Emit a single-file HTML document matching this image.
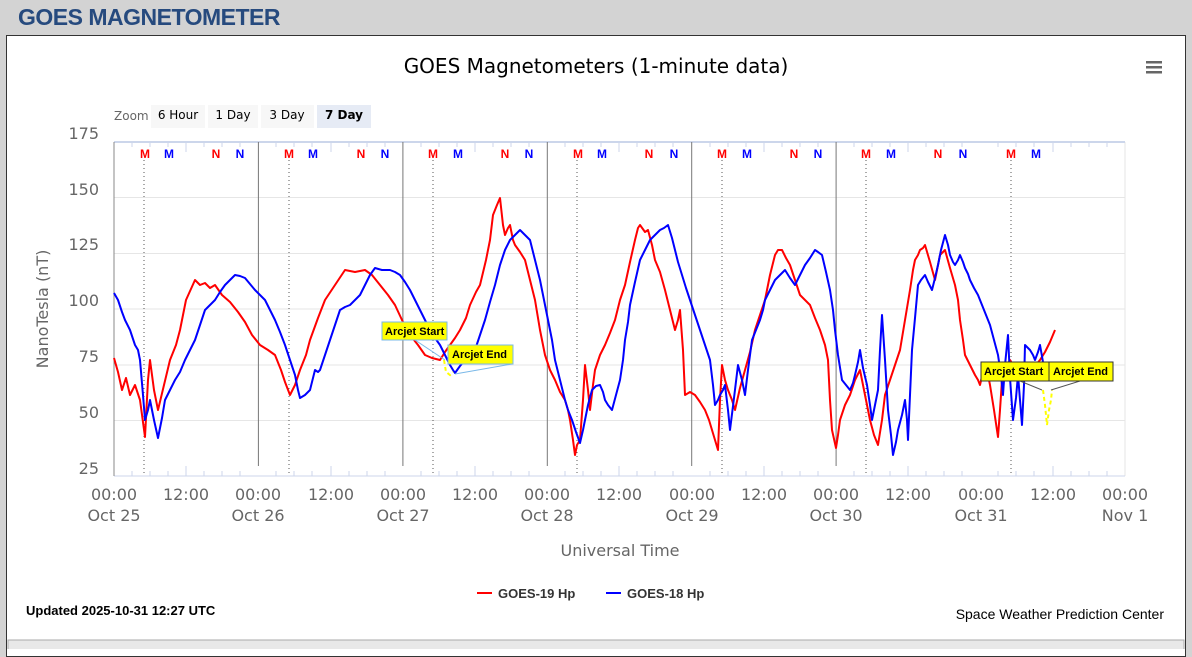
<!DOCTYPE html>
<html><head><meta charset="utf-8">
<style>
body{margin:0;width:1192px;height:649px;background:#d3d3d3;overflow:hidden;font-family:"Liberation Sans",sans-serif;}
.hdr{position:absolute;left:18px;top:4px;font-size:23px;font-weight:bold;color:#264a7e;letter-spacing:-0.5px;}
.panel{position:absolute;left:6px;top:35px;width:1178px;height:620px;background:#fff;border:1px solid #333;}
svg{position:absolute;left:0;top:0;}
</style></head><body>
<div class="hdr">GOES MAGNETOMETER</div>
<div class="panel"></div>
<svg width="1192" height="649" font-family="DejaVu Sans, sans-serif">
<text x="596" y="73" text-anchor="middle" font-size="20" fill="#000">GOES Magnetometers (1-minute data)</text>
<g fill="#666"><rect x="1146" y="61" width="16" height="2.5"/><rect x="1146" y="66" width="16" height="2.5"/><rect x="1146" y="71" width="16" height="2.5"/></g>
<text x="114" y="120" font-size="12" fill="#666">Zoom</text>
<rect x="151" y="105" width="54" height="23" fill="#f7f7f7"/><text x="178" y="119" text-anchor="middle" font-size="12">6 Hour</text>
<rect x="208" y="105" width="50" height="23" fill="#f7f7f7"/><text x="233" y="119" text-anchor="middle" font-size="12">1 Day</text>
<rect x="261" y="105" width="53" height="23" fill="#f7f7f7"/><text x="287" y="119" text-anchor="middle" font-size="12">3 Day</text>
<rect x="317" y="105" width="54" height="23" fill="#e6ebf5"/><text x="344" y="119" text-anchor="middle" font-size="12" font-weight="bold">7 Day</text>
<!-- grid -->
<g stroke="#e6e6e6" stroke-width="1">
<line x1="114" x2="1125" y1="197.5" y2="197.5"/><line x1="114" x2="1125" y1="253.5" y2="253.5"/><line x1="114" x2="1125" y1="309" y2="309"/><line x1="114" x2="1125" y1="365" y2="365"/><line x1="114" x2="1125" y1="420.5" y2="420.5"/>
</g>
<line x1="1125" x2="1125" y1="142" y2="476" stroke="#e6e6e6"/>
<line x1="114" x2="1125" y1="142" y2="142" stroke="#ccd6eb" stroke-width="2"/>
<line x1="114" x2="1125" y1="476" y2="476" stroke="#ccd6eb"/>
<line x1="114" x2="114" y1="142" y2="476" stroke="#888"/>
<g stroke="#777"><line x1="258.4" x2="258.4" y1="142" y2="466"/><line x1="402.9" x2="402.9" y1="142" y2="466"/><line x1="547.3" x2="547.3" y1="142" y2="466"/><line x1="691.7" x2="691.7" y1="142" y2="466"/><line x1="836.1" x2="836.1" y1="142" y2="466"/></g>
<g stroke="#555" stroke-dasharray="1,3"><line x1="144" x2="144" y1="160" y2="476"/><line x1="289" x2="289" y1="160" y2="476"/><line x1="433" x2="433" y1="160" y2="476"/><line x1="577" x2="577" y1="160" y2="476"/><line x1="722" x2="722" y1="160" y2="476"/><line x1="866" x2="866" y1="160" y2="476"/><line x1="1011" x2="1011" y1="160" y2="476"/></g>
<g stroke="#ccd6eb" id="tk">
<line x1="132" x2="132" y1="476" y2="471"/><line x1="150" x2="150" y1="476" y2="471"/><line x1="168" x2="168" y1="476" y2="471"/><line x1="186" x2="186" y1="476" y2="466"/><line x1="204" x2="204" y1="476" y2="471"/><line x1="222" x2="222" y1="476" y2="471"/><line x1="240" x2="240" y1="476" y2="471"/>
<line x1="276" x2="276" y1="476" y2="471"/><line x1="294" x2="294" y1="476" y2="471"/><line x1="312" x2="312" y1="476" y2="471"/><line x1="331" x2="331" y1="476" y2="466"/><line x1="349" x2="349" y1="476" y2="471"/><line x1="367" x2="367" y1="476" y2="471"/><line x1="385" x2="385" y1="476" y2="471"/>
<line x1="421" x2="421" y1="476" y2="471"/><line x1="439" x2="439" y1="476" y2="471"/><line x1="457" x2="457" y1="476" y2="471"/><line x1="475" x2="475" y1="476" y2="466"/><line x1="493" x2="493" y1="476" y2="471"/><line x1="511" x2="511" y1="476" y2="471"/><line x1="529" x2="529" y1="476" y2="471"/>
<line x1="565" x2="565" y1="476" y2="471"/><line x1="583" x2="583" y1="476" y2="471"/><line x1="601" x2="601" y1="476" y2="471"/><line x1="619" x2="619" y1="476" y2="466"/><line x1="637" x2="637" y1="476" y2="471"/><line x1="655" x2="655" y1="476" y2="471"/><line x1="673" x2="673" y1="476" y2="471"/>
<line x1="710" x2="710" y1="476" y2="471"/><line x1="728" x2="728" y1="476" y2="471"/><line x1="746" x2="746" y1="476" y2="471"/><line x1="764" x2="764" y1="476" y2="466"/><line x1="782" x2="782" y1="476" y2="471"/><line x1="800" x2="800" y1="476" y2="471"/><line x1="818" x2="818" y1="476" y2="471"/>
<line x1="854" x2="854" y1="476" y2="471"/><line x1="872" x2="872" y1="476" y2="471"/><line x1="890" x2="890" y1="476" y2="471"/><line x1="908" x2="908" y1="476" y2="466"/><line x1="926" x2="926" y1="476" y2="471"/><line x1="944" x2="944" y1="476" y2="471"/><line x1="962" x2="962" y1="476" y2="471"/>
<line x1="998" x2="998" y1="476" y2="471"/><line x1="1016" x2="1016" y1="476" y2="471"/><line x1="1034" x2="1034" y1="476" y2="471"/><line x1="1053" x2="1053" y1="476" y2="466"/><line x1="1071" x2="1071" y1="476" y2="471"/><line x1="1089" x2="1089" y1="476" y2="471"/><line x1="1107" x2="1107" y1="476" y2="471"/>
</g>
<use href="#tk" transform="translate(0,618) scale(1,-1)"/>
<!-- MN labels -->
<g font-size="12" font-weight="bold" font-family="Liberation Sans, sans-serif" text-anchor="middle">
<g fill="#f00"><text x="145" y="158">M</text><text x="289" y="158">M</text><text x="433" y="158">M</text><text x="578" y="158">M</text><text x="722" y="158">M</text><text x="866" y="158">M</text><text x="1011" y="158">M</text>
<text x="216" y="158">N</text><text x="361" y="158">N</text><text x="505" y="158">N</text><text x="649" y="158">N</text><text x="794" y="158">N</text><text x="938" y="158">N</text></g>
<g fill="#00f"><text x="169" y="158">M</text><text x="313" y="158">M</text><text x="458" y="158">M</text><text x="602" y="158">M</text><text x="747" y="158">M</text><text x="891" y="158">M</text><text x="1036" y="158">M</text>
<text x="240" y="158">N</text><text x="385" y="158">N</text><text x="529" y="158">N</text><text x="674" y="158">N</text><text x="818" y="158">N</text><text x="963" y="158">N</text></g>
</g>
<!-- y labels -->
<g font-size="16" fill="#666" text-anchor="end">
<text x="99" y="139">175</text><text x="99" y="195">150</text><text x="99" y="250">125</text><text x="99" y="306">100</text><text x="99" y="362">75</text><text x="99" y="418">50</text><text x="99" y="474">25</text>
</g>
<text transform="translate(48,309) rotate(-90)" text-anchor="middle" font-size="16" fill="#666">NanoTesla (nT)</text>
<g font-size="16" fill="#666" text-anchor="middle">
<text x="114" y="500">00:00</text><text x="114" y="521">Oct 25</text>
<text x="186" y="500">12:00</text>
<text x="258" y="500">00:00</text><text x="258" y="521">Oct 26</text>
<text x="331" y="500">12:00</text>
<text x="403" y="500">00:00</text><text x="403" y="521">Oct 27</text>
<text x="475" y="500">12:00</text>
<text x="547" y="500">00:00</text><text x="547" y="521">Oct 28</text>
<text x="619" y="500">12:00</text>
<text x="692" y="500">00:00</text><text x="692" y="521">Oct 29</text>
<text x="764" y="500">12:00</text>
<text x="836" y="500">00:00</text><text x="836" y="521">Oct 30</text>
<text x="908" y="500">12:00</text>
<text x="981" y="500">00:00</text><text x="981" y="521">Oct 31</text>
<text x="1053" y="500">12:00</text>
<text x="1125" y="500">00:00</text><text x="1125" y="521">Nov 1</text>
<text x="620" y="556">Universal Time</text>
</g>
<!-- series -->
<polyline fill="none" stroke="#f00" stroke-width="2" stroke-linejoin="round" points="114,358 118,372 122,390 126,378 130,395 135,385 140,400 145,437 148,380 150,360 154,390 158,410 164,385 170,360 176,345 180,330 186,300 195,280 200,285 205,283 210,288 215,285 222,295 230,302 238,312 245,322 252,335 260,345 268,350 275,355 281,370 285,382 290,395 295,385 300,370 306,355 310,340 318,318 325,300 335,285 345,270 355,272 365,270 372,275 380,285 388,295 395,305 402,320 410,335 418,345 425,355 432,358 440,360 445,352 450,345 455,338 460,330 466,318 470,305 476,292 480,285 486,260 490,240 493,215 497,205 500,198 503,225 505,235 508,228 510,225 513,240 515,245 520,252 525,260 530,280 535,300 540,330 545,355 550,370 555,380 560,392 565,400 568,410 570,420 573,440 575,455 577,445 580,440 583,400 585,365 588,390 590,410 593,385 595,370 600,355 605,345 610,333 615,320 620,300 625,285 630,262 635,240 638,228 640,225 645,232 648,230 652,245 655,260 660,272 665,290 670,310 675,330 678,320 680,310 683,350 685,395 690,392 695,395 700,402 705,410 709,420 712,430 715,440 718,450 720,400 722,365 725,380 728,390 732,400 735,410 740,388 745,370 750,352 755,330 760,315 765,300 770,275 775,255 778,250 782,250 786,258 790,265 795,280 800,295 805,300 810,305 815,318 820,330 825,345 828,360 830,400 832,430 836,448 838,435 840,420 845,405 850,395 855,380 860,370 865,395 870,420 874,435 878,445 882,420 885,395 890,380 895,365 900,350 905,320 910,290 913,270 915,260 918,255 920,250 923,248 925,245 930,262 935,280 938,265 940,255 943,252 945,250 950,268 955,285 958,300 960,320 963,340 965,355 970,365 975,375 978,380 980,385 983,372 985,365 988,375 990,385 994,410 998,437 1000,410 1002,380 1006,368 1010,360 1015,368 1020,375 1025,372 1030,370 1035,366 1040,360 1045,352 1050,342 1055,330"/>
<polyline fill="none" stroke="#00f" stroke-width="2" stroke-linejoin="round" points="114,293 118,300 122,312 125,320 130,330 135,345 138,350 140,360 143,395 145,420 148,410 150,400 154,420 158,438 162,418 165,400 170,390 175,380 180,372 185,360 190,350 195,340 200,325 205,310 210,305 215,300 220,292 225,285 230,280 235,275 240,276 245,278 250,284 255,290 260,295 265,300 270,310 275,320 280,332 285,345 290,360 295,375 298,390 300,398 305,395 310,390 313,378 315,370 318,372 320,370 325,355 330,340 335,325 340,310 345,307 350,305 355,300 360,295 365,285 370,275 375,268 382,270 390,270 395,272 400,275 405,282 410,290 415,300 420,310 425,320 430,330 435,338 440,345 445,355 450,365 453,370 455,373 460,366 465,360 470,355 475,350 480,335 485,320 490,302 495,285 500,265 505,250 510,240 515,235 518,232 520,230 525,235 530,240 535,260 540,280 544,300 548,320 552,340 555,360 560,380 565,400 568,410 572,420 576,432 580,443 583,430 585,420 588,405 592,390 596,386 600,385 603,392 605,400 608,405 612,410 616,395 620,380 623,360 625,340 628,322 630,305 635,282 640,260 645,250 650,240 655,235 660,230 664,228 668,225 672,238 675,250 678,262 682,275 686,288 690,300 695,315 700,330 705,345 710,360 713,385 715,405 718,400 720,395 723,390 725,385 728,410 730,430 734,398 738,365 742,380 745,395 748,370 752,340 756,330 760,320 763,310 765,300 770,290 775,280 780,275 785,270 790,278 795,285 800,275 805,265 810,258 815,250 818,252 822,255 826,272 830,290 833,310 835,330 838,355 842,380 846,385 850,390 853,383 855,375 858,362 860,350 863,368 867,385 870,405 872,420 875,405 878,390 880,350 882,315 885,360 888,410 891,435 893,455 896,442 898,430 902,415 905,400 907,420 908,440 910,395 912,350 915,318 918,285 921,280 925,275 928,282 932,290 935,278 938,265 941,250 945,235 948,245 950,255 953,262 955,265 958,260 960,255 963,262 965,268 968,274 970,280 974,288 978,295 984,310 990,325 994,340 998,355 1001,375 1003,395 1005,365 1008,335 1010,378 1013,420 1016,398 1018,375 1020,400 1022,425 1024,385 1025,345 1028,348 1030,350 1033,355 1035,360 1038,352 1040,345 1043,362 1045,380 1048,375 1050,370"/>
<polyline fill="none" stroke="#ff0" stroke-width="2" stroke-dasharray="4,3" points="444,360 446,372 450,375 453,372"/>
<polyline fill="none" stroke="#ff0" stroke-width="2" stroke-dasharray="4,3" points="1043,390 1045,405 1047,425 1049,410 1051,400 1052,390"/>
<!-- annotations -->
<g stroke="#7ab8e8" stroke-width="1"><line x1="415" y1="340" x2="445" y2="360"/><line x1="512" y1="364" x2="455" y2="374"/></g>
<rect x="382" y="322" width="65" height="18" fill="#ff0" stroke="#7ab8e8"/><text x="385" y="335" font-size="11" font-weight="bold" font-family="Liberation Sans, sans-serif">Arcjet Start</text>
<rect x="448" y="345" width="65" height="19" fill="#ff0" stroke="#7ab8e8"/><text x="452" y="358" font-size="11" font-weight="bold" font-family="Liberation Sans, sans-serif">Arcjet End</text>
<g stroke="#555" stroke-width="1"><line x1="1020" y1="381" x2="1042" y2="390"/><line x1="1080" y1="381" x2="1051" y2="390"/></g>
<rect x="981" y="362" width="68" height="19" fill="#ff0" stroke="#333"/><text x="984" y="375" font-size="11" font-weight="bold" font-family="Liberation Sans, sans-serif">Arcjet Start</text>
<rect x="1049" y="362" width="64" height="19" fill="#ff0" stroke="#333"/><text x="1053" y="375" font-size="11" font-weight="bold" font-family="Liberation Sans, sans-serif">Arcjet End</text>
<!-- legend -->
<line x1="477" x2="492" y1="593" y2="593" stroke="#f00" stroke-width="2"/>
<text x="498" y="598" font-size="13" fill="#333" font-weight="bold" font-family="Liberation Sans, sans-serif">GOES-19 Hp</text>
<line x1="606" x2="621" y1="593" y2="593" stroke="#00f" stroke-width="2"/>
<text x="627" y="598" font-size="13" fill="#333" font-weight="bold" font-family="Liberation Sans, sans-serif">GOES-18 Hp</text>
<text x="26" y="615" font-size="13" font-weight="bold" fill="#000" font-family="Liberation Sans, sans-serif">Updated 2025-10-31 12:27 UTC</text>
<text x="1164" y="619" text-anchor="end" font-size="14" fill="#000" font-family="Liberation Sans, sans-serif">Space Weather Prediction Center</text>
<rect x="8" y="640" width="1176" height="12" fill="#e8e8e8" stroke="#aaa"/>
</svg>
</body></html>
